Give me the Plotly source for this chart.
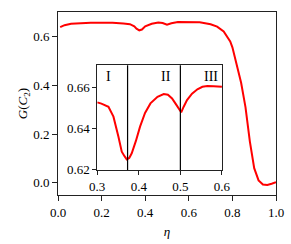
import plotly.graph_objects as go

main_eta = [0.01, 0.03, 0.06, 0.10, 0.15, 0.20, 0.25, 0.30, 0.33, 0.35, 0.36, 0.373, 0.385,
            0.40, 0.43, 0.46, 0.48, 0.50, 0.52, 0.55, 0.60, 0.65, 0.70, 0.73, 0.76, 0.79,
            0.80, 0.82, 0.84, 0.86, 0.88, 0.90, 0.92, 0.94, 0.96, 0.98, 1.00]
main_G = [0.638, 0.646, 0.652, 0.655, 0.656, 0.656, 0.656, 0.6526, 0.650, 0.641, 0.632, 0.625, 0.628,
          0.641, 0.652, 0.657, 0.655, 0.648, 0.654, 0.659, 0.660, 0.658, 0.650, 0.640, 0.620, 0.579,
          0.555, 0.485, 0.410, 0.310, 0.170, 0.060, 0.010, -0.007, -0.009, -0.004, 0.002]

inset_eta = [0.300, 0.310, 0.327, 0.339, 0.351, 0.359, 0.366, 0.371, 0.377, 0.383, 0.393, 0.403,
             0.415, 0.428, 0.445, 0.460, 0.470, 0.480, 0.490, 0.496, 0.502, 0.508, 0.516, 0.528,
             0.541, 0.553, 0.565, 0.580, 0.600]
inset_G = [0.6526, 0.6520, 0.6505, 0.6457, 0.6360, 0.6288, 0.6265, 0.6251, 0.6258, 0.6280, 0.6340, 0.6409,
           0.6475, 0.6521, 0.6553, 0.6566, 0.6563, 0.6545, 0.6515, 0.6497, 0.6478, 0.6505, 0.6537, 0.6568,
           0.6589, 0.6601, 0.6605, 0.6604, 0.6601]

region_bounds = [0.373, 0.5]
region_labels = ["I", "II", "III"]
region_label_x = [0.327, 0.466, 0.573]

FONT = "Liberation Serif, DejaVu Serif, serif"

fig = go.Figure()
fig.add_trace(go.Scatter(x=main_eta, y=main_G, mode="lines",
                         line=dict(color="red", width=2), xaxis="x", yaxis="y", showlegend=False))
fig.add_trace(go.Scatter(x=inset_eta, y=inset_G, mode="lines",
                         line=dict(color="red", width=2), xaxis="x2", yaxis="y2", showlegend=False))

axcommon = dict(showline=True, linecolor="#222", linewidth=1, mirror=True, ticks="outside",
                tickcolor="#222", tickwidth=1, showgrid=False, zeroline=False, automargin=False,
                tickfont=dict(family=FONT, size=13, color="black"))

fig.update_layout(
    width=291, height=244,
    margin=dict(l=58, r=15, t=12, b=49, autoexpand=False),
    paper_bgcolor="white", plot_bgcolor="white",
    font=dict(family=FONT, size=13, color="black"),
    xaxis=dict(range=[0, 1.0], tickvals=[0, 0.2, 0.4, 0.6, 0.8, 1.0], tickformat=".1f",
               ticklen=5, domain=[0, 1],
               title=dict(text="<i>η</i>", font=dict(family=FONT, size=13, color="black"), standoff=8),
               **axcommon),
    yaxis=dict(range=[-0.05, 0.70], tickvals=[0, 0.2, 0.4, 0.6], tickformat=".1f",
               ticklen=5, domain=[0, 1],
               title=dict(text="<i>G</i>(<i>C</i><sub>2</sub>)", font=dict(family=FONT, size=13, color="black"),
                          standoff=2),
               **axcommon),
    xaxis2=dict(range=[0.3, 0.6], tickvals=[0.3, 0.4, 0.5, 0.6], tickformat=".1f",
                ticklen=4, domain=[0.180, 0.752], anchor="y2", **axcommon),
    yaxis2=dict(range=[0.62, 0.6705], tickvals=[0.62, 0.64, 0.66], tickformat=".2f",
                ticklen=4, domain=[0.137, 0.709], anchor="x2", **axcommon),
)

# white background for inset
fig.add_shape(type="rect", xref="x2 domain", yref="y2 domain", x0=0, x1=1, y0=0, y1=1,
              fillcolor="white", line=dict(width=0), layer="below")

for b in region_bounds:
    fig.add_shape(type="line", xref="x2", yref="y2 domain", x0=b, x1=b, y0=0, y1=1,
                  line=dict(color="black", width=1.2))

for lab, lx in zip(region_labels, region_label_x):
    fig.add_annotation(x=lx, y=0.665, xref="x2", yref="y2", text=lab, showarrow=False,
                       font=dict(family=FONT, size=14, color="black"))

fig.write_html("out.html", config={"displayModeBar": False},
               post_script="document.body.style.margin='0';document.body.style.padding='0';")
